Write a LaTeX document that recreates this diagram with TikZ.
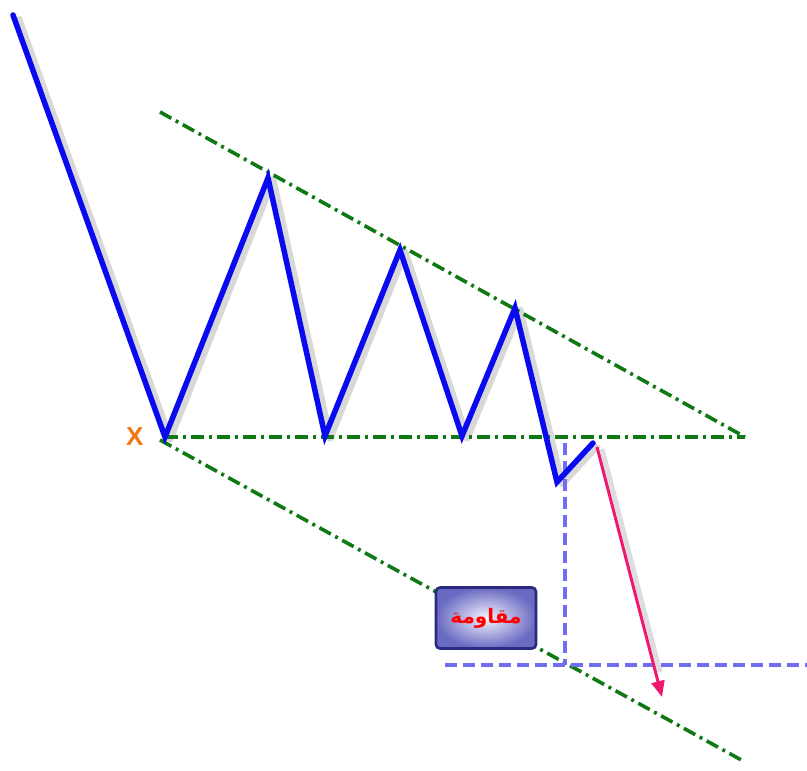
\documentclass[tikz,border=0pt]{standalone}
\usepackage{fontspec}
\newfontfamily\arabicfont[Script=Arabic]{DejaVu Sans}
\setsansfont{Liberation Sans}
\TeXXeTstate=1
\usetikzlibrary{arrows.meta,positioning,calc,shadows}
\definecolor{zigblue}{HTML}{0A0AF0}
\definecolor{trendgreen}{HTML}{0F7A14}
\definecolor{guideblue}{HTML}{6E6EF2}
\definecolor{breakpink}{HTML}{F0186E}
\definecolor{xorange}{HTML}{F5780F}
\definecolor{boxnavy}{HTML}{2A2A80}
\definecolor{boxouter}{HTML}{6A6AC2}
\definecolor{boxinner}{HTML}{F4F4FF}
\tikzset{
  >={Triangle[length=16pt,width=13pt]},
  % zickzack
  zig/.style={draw=zigblue,line width=5.5pt,line join=miter,line cap=round},
  zigshade/.style={draw=black!25,line width=7pt,line join=round,opacity=0.6,
             transform canvas={shift={(5pt,-2pt)}}},
  % linjer
  trend/.style={draw=trendgreen,line width=3.6pt,
             dash pattern=on 13pt off 5pt on 3pt off 5pt},
  guide/.style={draw=guideblue,line width=3.4pt,dash pattern=on 12pt off 6pt},
  brk/.style={->,draw=breakpink,fill=breakpink,line width=3pt},
  brkshade/.style={draw=black!22,line width=5pt,opacity=0.6,
             transform canvas={shift={(5pt,-2pt)}}},
  lbl/.style={rectangle,rounded corners=4pt,draw=boxnavy,line width=2.6pt,
             inner color=boxinner,outer color=boxouter,
             minimum width=100pt,minimum height=61pt,inner sep=0pt},
}
\begin{document}
\begin{tikzpicture}[x=1pt,y=-1pt]
\useasboundingbox[fill=white] (0,0) rectangle (807,771);
  % pivots
  \coordinate (p0) at (13,15);
  \coordinate (x)  at (165,437);
  \coordinate (h1) at (268,178);
  \coordinate (l1) at (325,436);
  \coordinate (h2) at (400,250);
  \coordinate (l2) at (462,436);
  \coordinate (h3) at (515,308);
  \coordinate (lo) at (557,482);
  \coordinate (rt) at (593,443);
  \coordinate (ts) at (160,112);
  \coordinate (te) at (745,437);
  \coordinate (bs) at (160,440);
  \coordinate (be) at (745,762);
  \coordinate (vt) at (565,443);
  \coordinate (vb) at (565,665);
  \coordinate (hl) at (445,665);
  \coordinate (hr) at (807,665);
  \coordinate (as) at (597,447);
  \coordinate (ae) at (662,697);
  \coordinate (ase) at (655,670);
  % skugga
  \draw[zigshade] (p0) -- (x) -- (h1) -- (l1) -- (h2) -- (l2) -- (h3) -- (lo) -- (rt);
  \draw[brkshade] (as) -- (ase);
  % trendlinjer
  \draw[trend] (ts) -- (te);
  \draw[trend] (x) -- (te);
  \draw[trend] (bs) -- (be);
  % mål
  \draw[guide] (vt) -- (vb);
  \draw[guide] (hl) -- (hr);
  \draw[zig] (p0) -- (x) -- (h1) -- (l1) -- (h2) -- (l2) -- (h3) -- (lo) -- (rt);
  \draw[brk] (as) -- (ae);
  \node[text=xorange,font=\sffamily\bfseries\fontsize{26}{26}\selectfont,
        left=18pt of x] (xl) {X};
  \node[lbl] (res) at (486,618)
    {\textcolor{red}{\arabicfont\bfseries\fontsize{20}{20}\selectfont\beginR مقاومة\endR}};
\end{tikzpicture}
\end{document}
